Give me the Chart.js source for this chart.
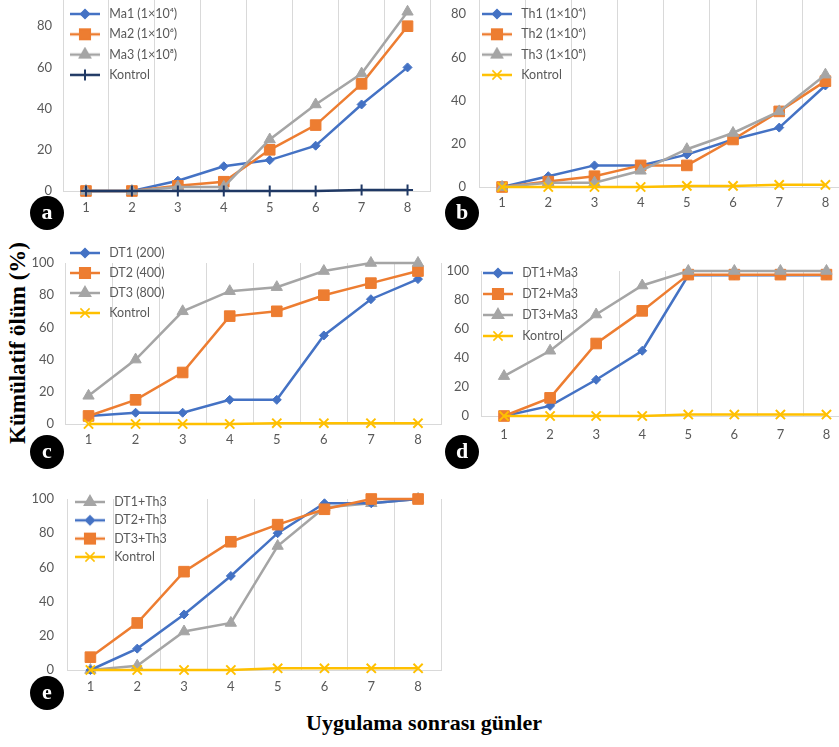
<!DOCTYPE html>
<html>
<head>
<meta charset="utf-8">
<script src="https://cdn.jsdelivr.net/npm/chart.js@4/dist/chart.umd.min.js"></script>
<style>
  body { margin: 0; width: 839px; height: 747px; overflow: hidden; position: relative; background: #fff; }
  canvas { position: absolute; }
  .badge { position: absolute; width: 34px; height: 34px; border-radius: 50%; background: #000; color: #fff;
    font: bold 22px "Liberation Serif", serif; text-align: center; line-height: 31px; }
  .ytitle { position: absolute; left: 18px; top: 343px; transform: translate(-50%, -50%) rotate(-90deg);
    font: bold 23px "Liberation Serif", serif; white-space: nowrap; color: #000; }
  .xtitle { position: absolute; left: 424px; top: 723px; transform: translate(-50%, -50%);
    font: bold 22px "Liberation Serif", serif; white-space: nowrap; color: #000; }
</style>
</head>
<body>
<div class="ytitle">Kümülatif ölüm (%)</div>
<div class="xtitle">Uygulama sonrası günler</div>

<script>
// days after treatment
const days = ['1', '2', '3', '4', '5', '6', '7', '8'];
const yTicks = [0, 20, 40, 60, 80, 100];

// a) Ma
const ma1 = [0, 0, 5, 12, 15, 22, 42, 60];
const ma2 = [0, 0, 2.5, 4.5, 20, 32, 52, 80];
const ma3 = [0, 0, 2, 2, 25, 42, 57, 87];
const kontrolA = [0, 0, 0, 0, 0, 0, 0.5, 0.5];

// b) Th
const th1 = [0, 5, 10, 10, 15, 22, 27.5, 47];
const th2 = [0, 2.5, 5, 10, 10, 22, 35, 49];
const th3 = [0, 2, 2, 7.5, 17.5, 25, 35, 52];
const kontrolB = [0, 0, 0, 0, 0.5, 0.5, 1, 1];

// c) DT
const dt1 = [5, 7, 7, 15, 15, 55, 77.5, 90];
const dt2 = [5, 15, 32, 67, 70, 80, 87.5, 95];
const dt3 = [17.5, 40, 70, 82.5, 85, 95, 100, 100];
const kontrolC = [0, 0, 0, 0, 0.5, 0.5, 0.5, 0.5];

// d) DT + Ma3
const dt1Ma3 = [0, 7, 25, 45, 97, 97, 97, 97];
const dt2Ma3 = [0, 12.5, 50, 72.5, 97.5, 97.5, 97.5, 97.5];
const dt3Ma3 = [27.5, 45, 70, 90, 100, 100, 100, 100];
const kontrolD = [0, 0, 0, 0, 1, 1, 1, 1];

// e) DT + Th3
const dt1Th3 = [0, 2.5, 22.5, 27.5, 72.5, 95, 97.5, 100];
const dt2Th3 = [0, 12.5, 32.5, 55, 80, 97.5, 97.5, 100];
const dt3Th3 = [7.5, 27.5, 57.5, 75, 85, 94, 100, 100];
const kontrolE = [0, 0, 0, 0, 1, 1, 1, 1];

// marker looks (excel default palette)
const MARK = {
  blue:   { color: '#4472C4', style: 'rectRot', r: 4.5 },
  orange: { color: '#ED7D31', style: 'rect', r: 7.5 },
  gray:   { color: '#A5A5A5', style: 'triangle', r: 6.5 },
  yellow: { color: '#FFC000', style: 'crossRot', r: 6.5 },
  navy:   { color: '#1F3864', style: 'cross', r: 5.5 }
};

const LEG_FONT = 12.5;
const LEG_BOX = 36;

// small line+marker picture for the legend
function legendIcon(m) {
  const c = document.createElement('canvas');
  c.width = 30; c.height = 16;
  const g = c.getContext('2d');
  g.strokeStyle = m.color; g.fillStyle = m.color;
  g.lineWidth = 2.5;
  g.beginPath(); g.moveTo(0, 8); g.lineTo(30, 8); g.stroke();
  const x = 15, y = 8, r = m.r;
  g.lineWidth = 1.5;
  g.beginPath();
  if (m.style == 'rectRot') {
    g.moveTo(x - r, y); g.lineTo(x, y - r); g.lineTo(x + r, y); g.lineTo(x, y + r); g.closePath(); g.fill();
  } else if (m.style == 'rect') {
    const s = r * Math.SQRT1_2;
    g.rect(x - s, y - s, 2 * s, 2 * s); g.fill();
  } else if (m.style == 'triangle') {
    for (let i = 0; i < 3; i++) {
      const a = i * 2 * Math.PI / 3;
      g[i ? 'lineTo' : 'moveTo'](x + Math.sin(a) * r, y - Math.cos(a) * r);
    }
    g.closePath(); g.fill();
  } else if (m.style == 'crossRot') {
    const d = r * Math.SQRT1_2;
    g.moveTo(x - d, y - d); g.lineTo(x + d, y + d); g.moveTo(x + d, y - d); g.lineTo(x - d, y + d);
  } else {
    g.lineWidth = 2;
    g.moveTo(x, y - r); g.lineTo(x, y + r);
  }
  g.stroke();
  return c;
}

function series(label, data, m, order) {
  return {
    label: label, data: data, order: order,
    borderColor: m.color, backgroundColor: m.color, borderWidth: 2.5,
    pointStyle: m.style, pointRadius: m.r, pointHoverRadius: m.r,
    pointBorderWidth: m.style.indexOf('cross') == 0 ? 2 : 1,
    tension: 0, clip: false,
    icon: legendIcon(m)
  };
}

// moves the legend into the top left of the plot
const legendMover = {
  id: 'legendMover',
  afterLayout(chart, args, opts) {
    const lg = chart.legend;
    const pad = opts.pad;
    const w = lg.width;
    lg.left = opts.x - LEG_BOX / 2 - pad;
    lg.top = opts.y - LEG_FONT / 2 - pad;
    lg.right = lg.left + w;
    lg.bottom = lg.top + 500;
  }
};

const panels = [
  { letter: 'a', L: 63, R: 439, T: -15, B: 191, xPad: 9, yPad: 11, leg: { x: 85, y: 14, pad: 7.8 },
    sets: [series('Ma1 (1×10⁴)', ma1, MARK.blue, 4), series('Ma2 (1×10⁶)', ma2, MARK.orange, 3),
           series('Ma3 (1×10⁸)', ma3, MARK.gray, 2), series('Kontrol', kontrolA, MARK.navy, 1)] },
  { letter: 'b', L: 479, R: 857, T: -29, B: 187, xPad: 8, yPad: 13, leg: { x: 497, y: 14, pad: 7.8 },
    sets: [series('Th1 (1×10⁴)', th1, MARK.blue, 4), series('Th2 (1×10⁶)', th2, MARK.orange, 3),
           series('Th3 (1×10⁸)', th3, MARK.gray, 2), series('Kontrol', kontrolB, MARK.yellow, 1)] },
  { letter: 'c', L: 65, R: 450, T: 263, B: 424, xPad: 8, yPad: 11, leg: { x: 85, y: 253, pad: 7.5 },
    sets: [series('DT1 (200)', dt1, MARK.blue, 4), series('DT2 (400)', dt2, MARK.orange, 3),
           series('DT3 (800)', dt3, MARK.gray, 2), series('Kontrol', kontrolC, MARK.yellow, 1)] },
  { letter: 'd', L: 481, R: 858, T: 271, B: 416, xPad: 11, yPad: 12, leg: { x: 498, y: 273, pad: 8.5 },
    sets: [series('DT1+Ma3', dt1Ma3, MARK.blue, 4), series('DT2+Ma3', dt2Ma3, MARK.orange, 3),
           series('DT3+Ma3', dt3Ma3, MARK.gray, 2), series('Kontrol', kontrolD, MARK.yellow, 1)] },
  { letter: 'e', L: 67, R: 450, T: 499, B: 670, xPad: 9, yPad: 13, leg: { x: 90, y: 502, pad: 5.8 },
    sets: [series('DT1+Th3', dt1Th3, MARK.gray, 4), series('DT2+Th3', dt2Th3, MARK.blue, 3),
           series('DT3+Th3', dt3Th3, MARK.orange, 2), series('Kontrol', kontrolE, MARK.yellow, 1)] }
];

const badgePos = { a: [47, 213], b: [462, 213], c: [47, 452], d: [462, 452], e: [47, 693] };

const Y_W = 40, X_H = 30, PAD_T = 30;

panels.forEach(function(p) {
  const cv = document.createElement('canvas');
  const left = p.L - Y_W, top = p.T - PAD_T;
  cv.width = p.R - p.L + Y_W;
  cv.height = p.B - p.T + PAD_T + X_H;
  cv.style.left = left + 'px';
  cv.style.top = top + 'px';
  document.body.appendChild(cv);

  new Chart(cv, {
    type: 'line',
    data: { labels: days, datasets: p.sets },
    plugins: [legendMover],
    options: {
      responsive: false,
      animation: false,
      devicePixelRatio: 1,
      layout: { padding: { top: PAD_T, left: 0, right: 0, bottom: 0 } },
      plugins: {
        tooltip: { enabled: false },
        legendMover: { x: p.leg.x - left, y: p.leg.y - top, pad: p.leg.pad },
        legend: {
          position: 'chartArea',
          align: 'start',
          labels: {
            usePointStyle: true,
            pointStyleWidth: LEG_BOX,
            padding: p.leg.pad,
            color: '#595959',
            font: { family: 'Lato', size: LEG_FONT },
            sort: (a, b) => a.datasetIndex - b.datasetIndex,
            generateLabels: function(chart) {
              const items = Chart.defaults.plugins.legend.labels.generateLabels(chart);
              items.forEach(it => { it.pointStyle = chart.data.datasets[it.datasetIndex].icon; });
              return items;
            }
          }
        }
      },
      scales: {
        x: {
          type: 'category',
          offset: true,
          grid: { offset: true, color: '#D9D9D9', drawTicks: false },
          border: { color: '#D9D9D9' },
          ticks: { color: '#595959', font: { family: 'Lato', size: 13 }, padding: p.xPad },
          afterFit: s => { s.height = X_H; }
        },
        y: {
          min: 0, max: 100,
          afterBuildTicks: s => { s.ticks = yTicks.map(v => ({ value: v })); },
          grid: { display: false, drawTicks: false },
          border: { display: false },
          ticks: { color: '#595959', font: { family: 'Lato', size: 13 }, padding: p.yPad },
          afterFit: s => { s.width = Y_W; }
        }
      }
    }
  });

  const b = document.createElement('div');
  b.className = 'badge';
  b.textContent = p.letter;
  b.style.left = (badgePos[p.letter][0] - 17) + 'px';
  b.style.top = (badgePos[p.letter][1] - 17) + 'px';
  document.body.appendChild(b);
});
</script>
</body>
</html>
